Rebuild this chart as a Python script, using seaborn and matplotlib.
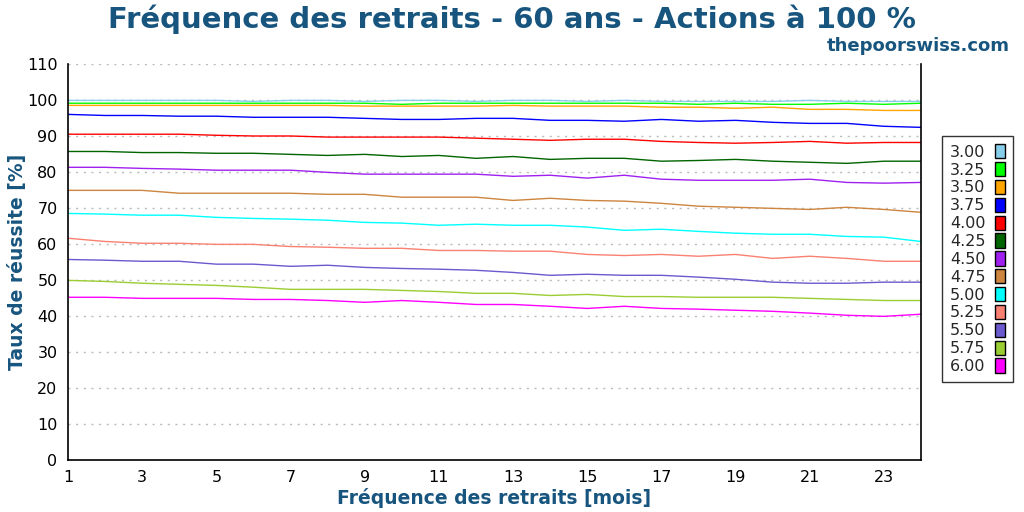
import pandas as pd
import seaborn as sns
import matplotlib.pyplot as plt
from matplotlib.patches import Patch

# withdrawal frequency in months
months = list(range(1, 25))

# success rate [%] per withdrawal rate
rates = ['3.00', '3.25', '3.50', '3.75', '4.00', '4.25', '4.50',
         '4.75', '5.00', '5.25', '5.50', '5.75', '6.00']

r300 = [99.9, 99.9, 99.9, 99.9, 99.9, 99.6, 99.9, 99.9, 99.6, 99.9, 99.9, 99.6,
        99.9, 99.9, 99.6, 99.9, 99.6, 99.6, 99.6, 99.6, 99.9, 99.6, 99.6, 99.6]
r325 = [99.1, 99.1, 99.1, 99.1, 99.1, 99.1, 99.1, 99.1, 99.1, 98.8, 99.1, 99.1,
        99.1, 99.1, 99.1, 99.1, 99.1, 98.8, 99.1, 98.8, 98.8, 99.1, 98.8, 99.1]
r350 = [98.5, 98.5, 98.5, 98.5, 98.5, 98.5, 98.5, 98.5, 98.3, 98.3, 98.3, 98.3,
        98.5, 98.3, 98.3, 98.3, 98.0, 98.0, 97.7, 98.0, 97.4, 97.4, 97.1, 97.1]
r375 = [96.0, 95.7, 95.7, 95.5, 95.5, 95.2, 95.2, 95.2, 94.9, 94.6, 94.6, 94.9,
        94.9, 94.35, 94.35, 94.1, 94.6, 94.1, 94.35, 93.8, 93.5, 93.5, 92.7, 92.4]
r400 = [90.5, 90.5, 90.5, 90.5, 90.2, 90.0, 90.0, 89.7, 89.7, 89.7, 89.7, 89.4,
        89.1, 88.8, 89.1, 89.1, 88.5, 88.2, 88.0, 88.2, 88.5, 88.0, 88.2, 88.2]
r425 = [85.7, 85.7, 85.4, 85.4, 85.2, 85.2, 84.9, 84.6, 84.9, 84.3, 84.6, 83.8,
        84.3, 83.5, 83.8, 83.8, 83.0, 83.2, 83.5, 83.0, 82.7, 82.4, 83.0, 83.0]
r450 = [81.3, 81.3, 81.0, 80.8, 80.5, 80.5, 80.5, 79.9, 79.4, 79.4, 79.4, 79.4,
        78.8, 79.1, 78.3, 79.1, 78.0, 77.7, 77.7, 77.7, 78.0, 77.1, 76.9, 77.1]
r475 = [74.9, 74.9, 74.9, 74.1, 74.1, 74.1, 74.1, 73.8, 73.8, 73.0, 73.0, 73.0,
        72.1, 72.7, 72.1, 71.9, 71.3, 70.5, 70.2, 69.9, 69.6, 70.2, 69.6, 68.8]
r500 = [68.5, 68.3, 68.0, 68.0, 67.4, 67.1, 66.9, 66.6, 66.0, 65.8, 65.2, 65.5,
        65.2, 65.2, 64.7, 63.8, 64.1, 63.5, 63.0, 62.7, 62.7, 62.1, 61.9, 60.7]
r525 = [61.6, 60.7, 60.2, 60.2, 59.9, 59.9, 59.3, 59.1, 58.8, 58.8, 58.2, 58.2,
        58.0, 58.0, 57.1, 56.8, 57.1, 56.6, 57.1, 56.0, 56.6, 56.0, 55.2, 55.2]
r550 = [55.7, 55.5, 55.2, 55.2, 54.4, 54.4, 53.8, 54.1, 53.5, 53.2, 53.0, 52.7,
        52.1, 51.3, 51.6, 51.3, 51.3, 50.8, 50.2, 49.4, 49.1, 49.1, 49.4, 49.4]
r575 = [49.9, 49.6, 49.1, 48.8, 48.5, 48.0, 47.4, 47.4, 47.4, 47.1, 46.8, 46.3,
        46.3, 45.7, 46.0, 45.4, 45.4, 45.2, 45.2, 45.2, 44.9, 44.6, 44.3, 44.3]
r600 = [45.2, 45.2, 44.9, 44.9, 44.9, 44.6, 44.6, 44.3, 43.8, 44.3, 43.8, 43.2,
        43.2, 42.7, 42.1, 42.7, 42.1, 41.9, 41.6, 41.3, 40.8, 40.2, 39.9, 40.5]

series = [r300, r325, r350, r375, r400, r425, r450,
          r475, r500, r525, r550, r575, r600]
colors = ['skyblue', 'lime', 'orange', 'blue', 'red', 'darkgreen', '#a020f0',
          'peru', 'cyan', 'salmon', 'slateblue', 'yellowgreen', 'magenta']

rows = []
for rate, vals in zip(rates, series):
    for m, v in zip(months, vals):
        rows.append({'mois': m, 'taux': v, 'retrait': rate})
df = pd.DataFrame(rows)

blue_txt = '#17557f'

sns.set_style('white')
plt.rcParams['font.family'] = ['DejaVu Sans']

fig = plt.figure(figsize=(10.24, 5.12), dpi=100)
ax = fig.add_axes([68 / 1024, 52 / 512, 853 / 1024, 396 / 512])

sns.lineplot(data=df, x='mois', y='taux', hue='retrait',
             palette=dict(zip(rates, colors)), linewidth=1.0,
             legend=False, ax=ax)

ax.set_xlim(1, 24)
ax.set_ylim(0, 110)
ax.set_xticks(range(1, 24, 2))
ax.set_yticks(range(0, 111, 10))
ax.yaxis.grid(True, linestyle=(0, (1.5, 4)), color='#bbbbbb', linewidth=1)
ax.tick_params(axis='both', direction='inout', length=8, width=1.2,
               labelsize=11.5, colors='black')
for side in ['left', 'bottom', 'right']:
    ax.spines[side].set_color('black')
    ax.spines[side].set_linewidth(1.2)
ax.spines['top'].set_visible(False)

ax.set_xlabel('Fréquence des retraits [mois]', fontsize=13.5,
              fontweight='bold', color=blue_txt, labelpad=2)
ax.set_ylabel('Taux de réussite [%]', fontsize=13.5,
              fontweight='bold', color=blue_txt, labelpad=0)

fig.text(0.5, 0.962, 'Fréquence des retraits - 60 ans - Actions à 100 %',
         ha='center', va='center', fontsize=21, fontweight='bold',
         color=blue_txt)
fig.text(0.986, 0.91, 'thepoorswiss.com', ha='right', va='center',
         fontsize=13, fontweight='bold', color=blue_txt)

handles = [Patch(facecolor=c, edgecolor='black', linewidth=1) for c in colors]
leg = fig.legend(handles, rates, loc='center left',
                 bbox_to_anchor=(0.912, 0.494), markerfirst=False,
                 fontsize=11.5, frameon=True, fancybox=False,
                 handlelength=0.65, handleheight=1.0, handletextpad=0.6,
                 labelspacing=0.14, borderpad=0.5)
leg.get_frame().set_edgecolor('black')
leg.get_frame().set_linewidth(1)

fig.savefig('out.png', dpi=100)
